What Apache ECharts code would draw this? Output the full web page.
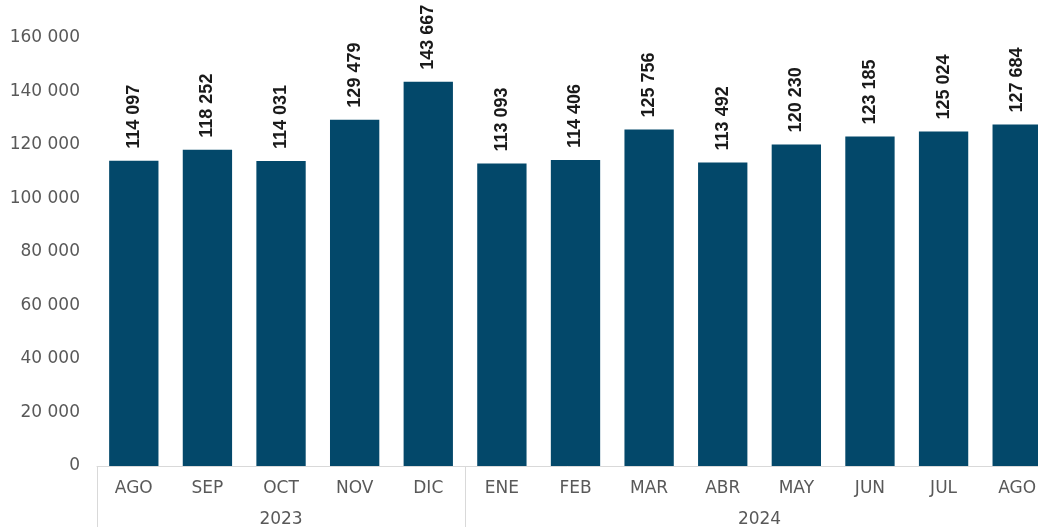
<!DOCTYPE html>
<html>
<head>
<meta charset="utf-8">
<script src="https://cdn.jsdelivr.net/npm/echarts@6/dist/echarts.min.js"></script>
<style>
  html, body { margin: 0; padding: 0; background: #fff; }
  #chart { width: 1038px; height: 527px; }
</style>
</head>
<body>
<div id="chart"></div>
<script>
var myChart = echarts.init(document.getElementById('chart'));

// meses y valores
var months = ['AGO', 'SEP', 'OCT', 'NOV', 'DIC', 'ENE', 'FEB', 'MAR', 'ABR', 'MAY', 'JUN', 'JUL', 'AGO'];
var values = [114097, 118252, 114031, 129479, 143667, 113093, 114406, 125756, 113492, 120230, 123185, 125024, 127684];
// años: [etiqueta, meses en el grupo]
var years = [['2023', 5], ['2024', 8]];

// eje de años en medias casillas (27 puntos = 13 categorias * 2 + 1)
var yearSlots = [];
var yearTicks = {};
var pos = 0;
for (var i = 0; i <= months.length * 2; i++) yearSlots.push('');
years.forEach(function (y) {
    yearTicks[pos * 2] = true;
    yearSlots[pos * 2 + y[1]] = y[0];
    pos += y[1];
});
yearTicks[pos * 2] = true;

function fmt(v) {
    return String(v).replace(/\B(?=(\d{3})+(?!\d))/g, ' ');
}

var option = {
    backgroundColor: '#fff',
    // el grafico original queda cortado por la derecha
    grid: { left: 97, width: 957, top: 38, bottom: 61, outerBoundsMode: 'none', containLabel: false },
    xAxis: [{
        type: 'category',
        data: months,
        position: 'bottom',
        offset: 0,
        axisLine: { lineStyle: { color: '#d9d9d9', width: 1 } },
        axisTick: { show: false },
        axisLabel: {
            color: '#595959',
            fontFamily: 'DejaVu Sans',
            fontSize: 17,
            margin: 14,
            interval: 0
        }
    }, {
        type: 'category',
        data: yearSlots,
        boundaryGap: false,
        position: 'bottom',
        offset: 0,
        axisLine: { show: false },
        axisTick: {
            show: true,
            length: 62,
            interval: function (idx) { return !!yearTicks[idx]; },
            lineStyle: { color: '#d9d9d9', width: 1 }
        },
        axisLabel: {
            color: '#595959',
            fontFamily: 'DejaVu Sans',
            fontSize: 17,
            margin: 45,
            interval: 0
        }
    }],
    yAxis: {
        type: 'value',
        min: 0,
        max: 160000,
        interval: 20000,
        axisLine: { show: false },
        axisTick: { show: false },
        splitLine: { show: false },
        axisLabel: {
            color: '#595959',
            fontFamily: 'DejaVu Sans',
            fontSize: 17,
            margin: 17,
            formatter: fmt
        }
    },
    series: [{
        type: 'bar',
        data: values,
        xAxisIndex: 0,
        barCategoryGap: '33%',
        itemStyle: { color: '#03486a' },
        label: {
            show: true,
            position: 'top',
            rotate: 90,
            align: 'left',
            verticalAlign: 'middle',
            distance: 12,
            color: '#1a1a1a',
            fontFamily: 'Liberation Sans',
            fontWeight: 'bold',
            fontSize: 18,
            formatter: function (p) { return fmt(p.value); }
        }
    }]
};

myChart.setOption(option, true);
</script>
</body>
</html>
